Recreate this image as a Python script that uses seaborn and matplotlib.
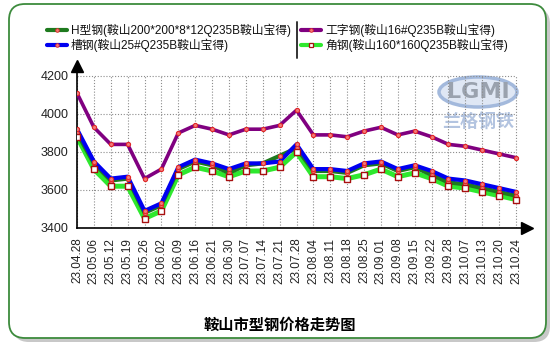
import numpy as np
import pandas as pd
import matplotlib
matplotlib.use('Agg')
import matplotlib.pyplot as plt
import seaborn as sns
from matplotlib.patches import FancyBboxPatch, Ellipse
from matplotlib.lines import Line2D
from matplotlib.transforms import IdentityTransform

dates = ['23.04.28', '23.05.06', '23.05.12', '23.05.19', '23.05.26', '23.06.02',
         '23.06.09', '23.06.16', '23.06.21', '23.06.30', '23.07.07', '23.07.14',
         '23.07.21', '23.07.28', '23.08.04', '23.08.11', '23.08.18', '23.08.25',
         '23.09.01', '23.09.08', '23.09.15', '23.09.22', '23.09.28', '23.10.07',
         '23.10.13', '23.10.20', '23.10.24']
h_beam = [3900, 3740, 3650, 3660, 3480, 3520, 3710, 3750, 3730, 3690, 3730, 3740,
          3780, 3820, 3700, 3700, 3690, 3730, 3740, 3700, 3720, 3680, 3640, 3630,
          3610, 3590, 3570]
i_beam = [4110, 3930, 3840, 3840, 3660, 3710, 3900, 3940, 3920, 3890, 3920, 3920,
          3940, 4020, 3890, 3890, 3880, 3910, 3930, 3890, 3910, 3880, 3840, 3830,
          3810, 3790, 3770]
channel = [3920, 3750, 3660, 3670, 3490, 3530, 3720, 3760, 3740, 3710, 3740, 3740,
           3750, 3840, 3710, 3710, 3700, 3740, 3750, 3710, 3730, 3700, 3660, 3650,
           3630, 3610, 3590]
angle = [3880, 3710, 3620, 3620, 3450, 3490, 3680, 3720, 3700, 3670, 3700, 3700,
         3720, 3800, 3670, 3670, 3660, 3680, 3710, 3670, 3690, 3660, 3620, 3610,
         3590, 3570, 3550]
labels = ['H型钢(鞍山200*200*8*12Q235B鞍山宝得)', '槽钢(鞍山25#Q235B鞍山宝得)',
          '工字钢(鞍山16#Q235B鞍山宝得)', '角钢(鞍山160*160Q235B鞍山宝得)']
title = '鞍山市型钢价格走势图'
yticks = [3400, 3600, 3800, 4000, 4200]

sns.set_theme(style='white')
plt.rcParams['font.family'] = ['Liberation Sans', 'Noto Sans CJK SC', 'DejaVu Sans']

W, H = 560, 348
fig = plt.figure(figsize=(W / 100, H / 100), dpi=100)
fig.patch.set_facecolor('white')
T = IdentityTransform()

def P(x, y):
    return x, H - y

# card border with shadow
shadow = FancyBboxPatch((13, H - 342), 537, 334, boxstyle='round,pad=0,rounding_size=16',
                        transform=T, facecolor='#c8c8c8', edgecolor='none', zorder=-3)
card = FancyBboxPatch((9, H - 338), 537, 334, boxstyle='round,pad=0,rounding_size=16',
                      transform=T, facecolor='white', edgecolor='#3d8b3d', lw=1.3, zorder=-2)
fig.patches.extend([shadow, card])

# watermark
fig.patches.append(Ellipse(P(478, 92), 78, 30, transform=T, facecolor='#dfe7f4',
                           edgecolor='#a3b9dc', lw=2.5, zorder=-1))
fig.text(*P(478, 92), 'LGMI', transform=T, ha='center', va='center', fontsize=16,
         fontweight='bold', color='#9aa2ae', zorder=-1, family=['DejaVu Sans'])
fig.text(*P(478, 122), '兰格钢铁', transform=T, ha='center', va='center', fontsize=13,
         fontweight='bold', color='#b3c4e0', zorder=-1, family=['Noto Sans CJK SC'])

ax = fig.add_axes([77 / W, (H - 228) / H, 450 / W, 162 / H])
ax.set_zorder(1)
ax.set_facecolor('none')
x = np.arange(len(dates))
df = pd.DataFrame({'x': x, 'h': h_beam, 'i': i_beam, 'c': channel, 'a': angle})

grid_kw = dict(colors='#8c8c8c', linestyles=(0, (1, 1.6)), lw=0.8, zorder=1)
ax.hlines(yticks, x[0], x[-1], **grid_kw)
ax.vlines(x, yticks[0], yticks[-1], **grid_kw)

c_h, c_i, c_c, c_a = '#1e7a1e', '#800080', '#0000f0', '#2ee82e'
sns.lineplot(data=df, x='x', y='a', ax=ax, color=c_a, lw=3.6, zorder=2)
sns.lineplot(data=df, x='x', y='h', ax=ax, color=c_h, lw=3.0, zorder=3)
sns.lineplot(data=df, x='x', y='c', ax=ax, color=c_c, lw=3.0, zorder=4)
sns.lineplot(data=df, x='x', y='i', ax=ax, color=c_i, lw=2.6, zorder=5)

for col in ['h', 'c', 'i']:
    sns.scatterplot(data=df, x='x', y=col, ax=ax, marker='o', s=9, color='#f27a7a',
                    edgecolor='#e02828', linewidth=0.8, zorder=6)
sns.scatterplot(data=df, x='x', y='a', ax=ax, marker='s', s=17, color='white',
                edgecolor='#a81010', linewidth=1.0, zorder=7)

ax.set_xlim(0, 26 * 450 / 439)
ax.set_ylim(3400, 3400 + 800 * 162 / 152)
ax.set_xticks(x)
ax.set_xticklabels(dates, rotation=90, fontsize=8.5, color='#222222')
ax.set_yticks(yticks)
ax.set_yticklabels([str(v) for v in yticks], fontsize=9, color='#222222')
ax.tick_params(axis='both', direction='out', length=4, width=1, color='black', pad=2)
ax.tick_params(axis='x', pad=3)
ax.set_xlabel('')
ax.set_ylabel('')
for s in ['top', 'right']:
    ax.spines[s].set_visible(False)
for s in ['left', 'bottom']:
    ax.spines[s].set_color('black')
    ax.spines[s].set_linewidth(1.2)
ax.plot([1], [0], marker='>', ms=8, color='black', transform=ax.transAxes, clip_on=False, zorder=8)
ax.plot([0], [1], marker='^', ms=8, color='black', transform=ax.transAxes, clip_on=False, zorder=8)

# legend
leg = [(labels[0], c_h, 'o', 47, 30), (labels[1], c_c, 'o', 47, 45),
       (labels[2], c_i, 'o', 301, 30), (labels[3], c_a, 's', 301, 45)]
for text, col, mk, lx, ly in leg:
    fig.add_artist(Line2D([lx, lx + 20], [H - ly, H - ly], transform=T, color=col, lw=3))
    if mk == 'o':
        fig.add_artist(Line2D([lx + 10], [H - ly], transform=T, marker='o', ms=2.6,
                              mfc='#f27a7a', mec='#e02828', mew=0.6))
    else:
        fig.add_artist(Line2D([lx + 10], [H - ly], transform=T, marker='s', ms=3.3,
                              mfc='white', mec='#a81010', mew=0.9))
    fig.text(lx + 24, H - ly, text, transform=T, ha='left', va='center', fontsize=8.5,
             color='#111111')
fig.add_artist(Line2D([297, 297], [H - 22, H - 58], transform=T, color='#333333', lw=1.4))

fig.text(*P(280, 325), title, transform=T, ha='center', va='center', fontsize=11,
         fontweight='bold', color='black', family=['Noto Sans CJK SC'])

fig.savefig('out.png', dpi=100)
